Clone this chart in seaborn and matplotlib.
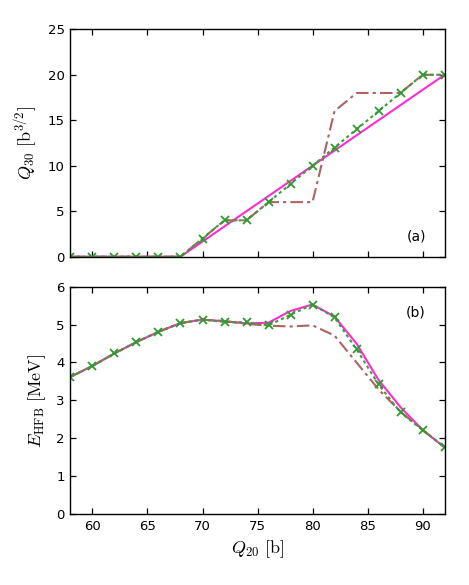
import numpy as np
import pandas as pd
import matplotlib
matplotlib.use("Agg")
import matplotlib.pyplot as plt
import seaborn as sns

# ---- data ----
q20 = [58, 60, 62, 64, 66, 68, 70, 72, 74, 76, 78, 80, 82, 84, 86, 88, 90, 92]

q30_green = [0, 0, 0, 0, 0, 0, 2, 4, 4, 6, 8, 10, 12, 14, 16, 18, 20, 20]
q30_brown = [0, 0, 0, 0, 0, 0, 2, 4, 4, 6, 6, 6, 16, 18, 18, 18, 20, 20]
q30_magenta_x = [58, 68, 92]
q30_magenta = [0, 0, 20]

e_green = [3.62, 3.91, 4.24, 4.54, 4.81, 5.04, 5.13, 5.07, 5.06, 4.98, 5.26, 5.53,
           5.19, 4.35, 3.42, 2.68, 2.22, 1.76]
e_magenta = [3.62, 3.91, 4.24, 4.54, 4.81, 5.04, 5.13, 5.09, 5.03, 5.05, 5.36, 5.53,
             5.21, 4.50, 3.54, 2.82, 2.22, 1.76]
e_brown = [3.62, 3.91, 4.24, 4.54, 4.81, 5.04, 5.13, 5.09, 5.02, 4.97, 4.95, 4.98,
           4.71, 4.00, 3.29, 2.70, 2.22, 1.76]

xticks = [60, 65, 70, 75, 80, 85, 90]
yticks_a = [0, 5, 10, 15, 20, 25]
yticks_b = [0, 1, 2, 3, 4, 5, 6]

# ---- style ----
sns.set_theme(style="ticks")
plt.rcParams['font.family'] = ['DejaVu Sans']
plt.rcParams['mathtext.fontset'] = 'cm'
plt.rcParams['text.color'] = 'black'
plt.rcParams['axes.labelcolor'] = 'black'

C_MAG = '#ff2ad4'
C_BRN = '#b06262'
C_GRN = '#3c9c3c'
C_MRK = '#2f9a2f'

fig = plt.figure(figsize=(4.69, 5.85), dpi=100)
ax1 = fig.add_axes([0.1503, 0.5612, 0.7975, 0.3887])
ax2 = fig.add_axes([0.1503, 0.1214, 0.7975, 0.3885])


def draw(ax, xm, ym, xb, yb, xg, yg):
    sns.lineplot(x=xm, y=ym, ax=ax, color=C_MAG, lw=1.5, estimator=None, sort=False)
    sns.lineplot(x=xb, y=yb, ax=ax, color=C_BRN, lw=1.5, estimator=None, sort=False,
                 linestyle=(0, (6, 2, 1.5, 2)))
    sns.lineplot(x=xg, y=yg, ax=ax, color=C_GRN, lw=1.5, estimator=None, sort=False,
                 linestyle=(0, (1.5, 1.5)))
    sns.lineplot(x=xg, y=yg, ax=ax, color=C_MRK, lw=0, estimator=None, sort=False,
                 marker='x', markersize=5.5, markeredgewidth=1.3, markeredgecolor=C_MRK)


draw(ax1, q30_magenta_x, q30_magenta, q20, q30_brown, q20, q30_green)
draw(ax2, q20, e_magenta, q20, e_brown, q20, e_green)

for ax in (ax1, ax2):
    ax.set_xlim(58, 92)
    ax.set_xticks(xticks)
    ax.tick_params(direction='in', top=True, right=True, length=4.5, width=0.9,
                   labelsize=9.5, colors='black', pad=4)
    for s in ax.spines.values():
        s.set_linewidth(1.0)
        s.set_color('black')
    ax.set_facecolor('white')

ax1.set_ylim(0, 25)
ax1.set_yticks(yticks_a)
ax1.set_xticklabels([])
ax1.set_xlabel('')
ax1.set_ylabel(r'$Q_{30}\ [\mathrm{b}^{3/2}]$', fontsize=13, labelpad=6, color='black')
ax1.text(0.95, 0.09, '(a)', transform=ax1.transAxes, ha='right', va='center',
         fontsize=10, color='black')

ax2.set_ylim(0, 6)
ax2.set_yticks(yticks_b)
ax2.set_xlabel(r'$Q_{20}\ [\mathrm{b}]$', fontsize=13, labelpad=4, color='black')
ax2.set_ylabel(r'$E_{\mathrm{HFB}}\ [\mathrm{MeV}]$', fontsize=13, labelpad=6, color='black')
ax2.text(0.95, 0.885, '(b)', transform=ax2.transAxes, ha='right', va='center',
         fontsize=10, color='black')

fig.savefig('out.png', dpi=100, facecolor='white')
